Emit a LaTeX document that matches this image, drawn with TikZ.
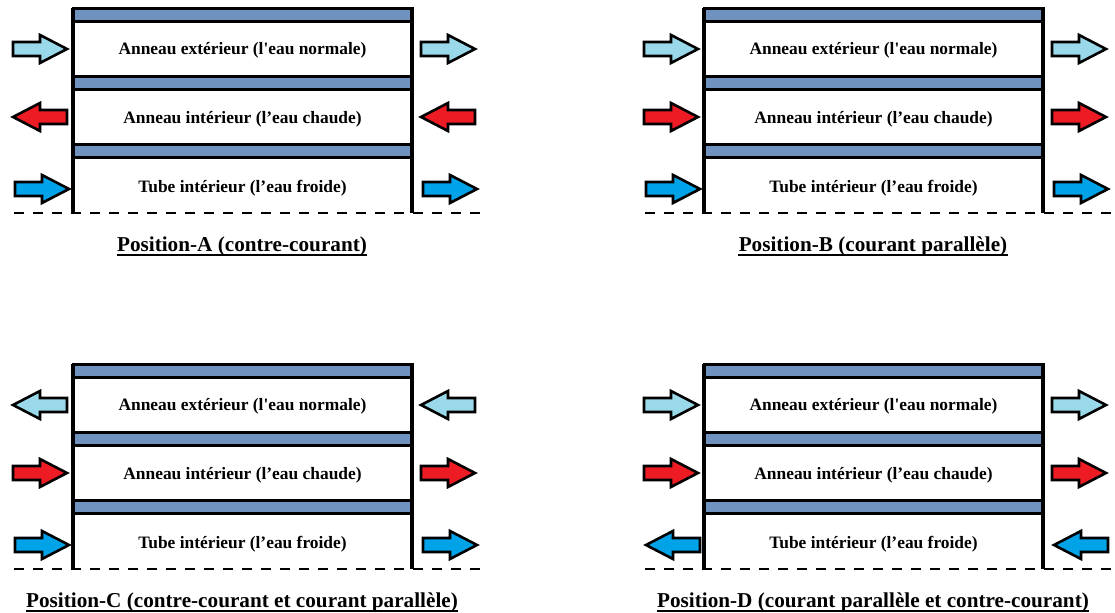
\documentclass[tikz,border=0pt]{standalone}
\usepackage{fontspec}
\setmainfont{Liberation Serif}[Ligatures=TeXOff]
\definecolor{barblue}{HTML}{7092BE}
\definecolor{paleblue}{HTML}{99D9EA}
\definecolor{hotred}{HTML}{ED1C24}
\definecolor{coldblue}{HTML}{00A2E8}
\tikzset{
  wall/.style={line width=1.6pt},
  barbox/.style={draw,line width=1.5pt,fill=barblue},
  flowbox/.style={draw,line width=1.3pt,line join=miter},
  axisline/.style={dash pattern=on 5pt off 4.5pt,line width=0.7pt},
  rowtext/.style={font=\fontsize{8.7}{10}\selectfont\bfseries},
  captext/.style={inner sep=0pt,font=\fontsize{10.6}{12}\selectfont\bfseries}
}
% block arrow: centre x, centre y, direction (1 or -1), colour
\newcommand{\flowarrow}[4]{%
  \draw[flowbox,fill=#4,shift={(#1,#2)},xscale=#3]
    (-27,-7)--(0,-7)--(0,-14)--(27,0)--(0,14)--(0,7)--(-27,7)--cycle;
}
\begin{document}
\begin{tikzpicture}[line cap=butt,line join=miter,x=0.5pt,y=-0.5pt]
\useasboundingbox (0,0) rectangle (1115,613);
\foreach \ox/\oy/\da/\db/\dc/\tag/\cap in {
  0/0/1/-1/1/A/{Position-A (contre-courant)},
  631/0/1/1/1/B/{Position-B (courant parallèle)},
  0/356/-1/1/1/C/{Position-C (contre-courant et courant parallèle)},
  631/356/1/1/-1/D/{Position-D (courant parallèle et contre-courant)}}
{
\begin{scope}[shift={(\ox,\oy)}]
\foreach \y in {9,77,145}
{
\draw[barbox] (73,\y) rectangle (412,\y+13);
}
\draw[wall] (73,8)--(73,213);
\draw[wall] (412,8)--(412,213);
\draw[axisline] (14,213)--(480,213);
\node[rowtext] (ext\tag) at (242.5,50) {Anneau extérieur (l'eau normale)};
\node[rowtext] (int\tag) at (242.5,119) {Anneau intérieur (l’eau chaude)};
\node[rowtext] (tube\tag) at (242.5,188) {Tube intérieur (l’eau froide)};
\flowarrow{40}{49}{\da}{paleblue}
\flowarrow{448}{49}{\da}{paleblue}
\flowarrow{40}{117}{\db}{hotred}
\flowarrow{448}{117}{\db}{hotred}
\flowarrow{42}{189}{\dc}{coldblue}
\flowarrow{450}{189}{\dc}{coldblue}
\node[captext] (pos\tag) at (242,246) {\cap};
\draw[line width=0.9pt] ([yshift=-1.8pt]pos\tag.base west)--([yshift=-1.8pt]pos\tag.base east);
\end{scope}
}
\end{tikzpicture}
\end{document}
